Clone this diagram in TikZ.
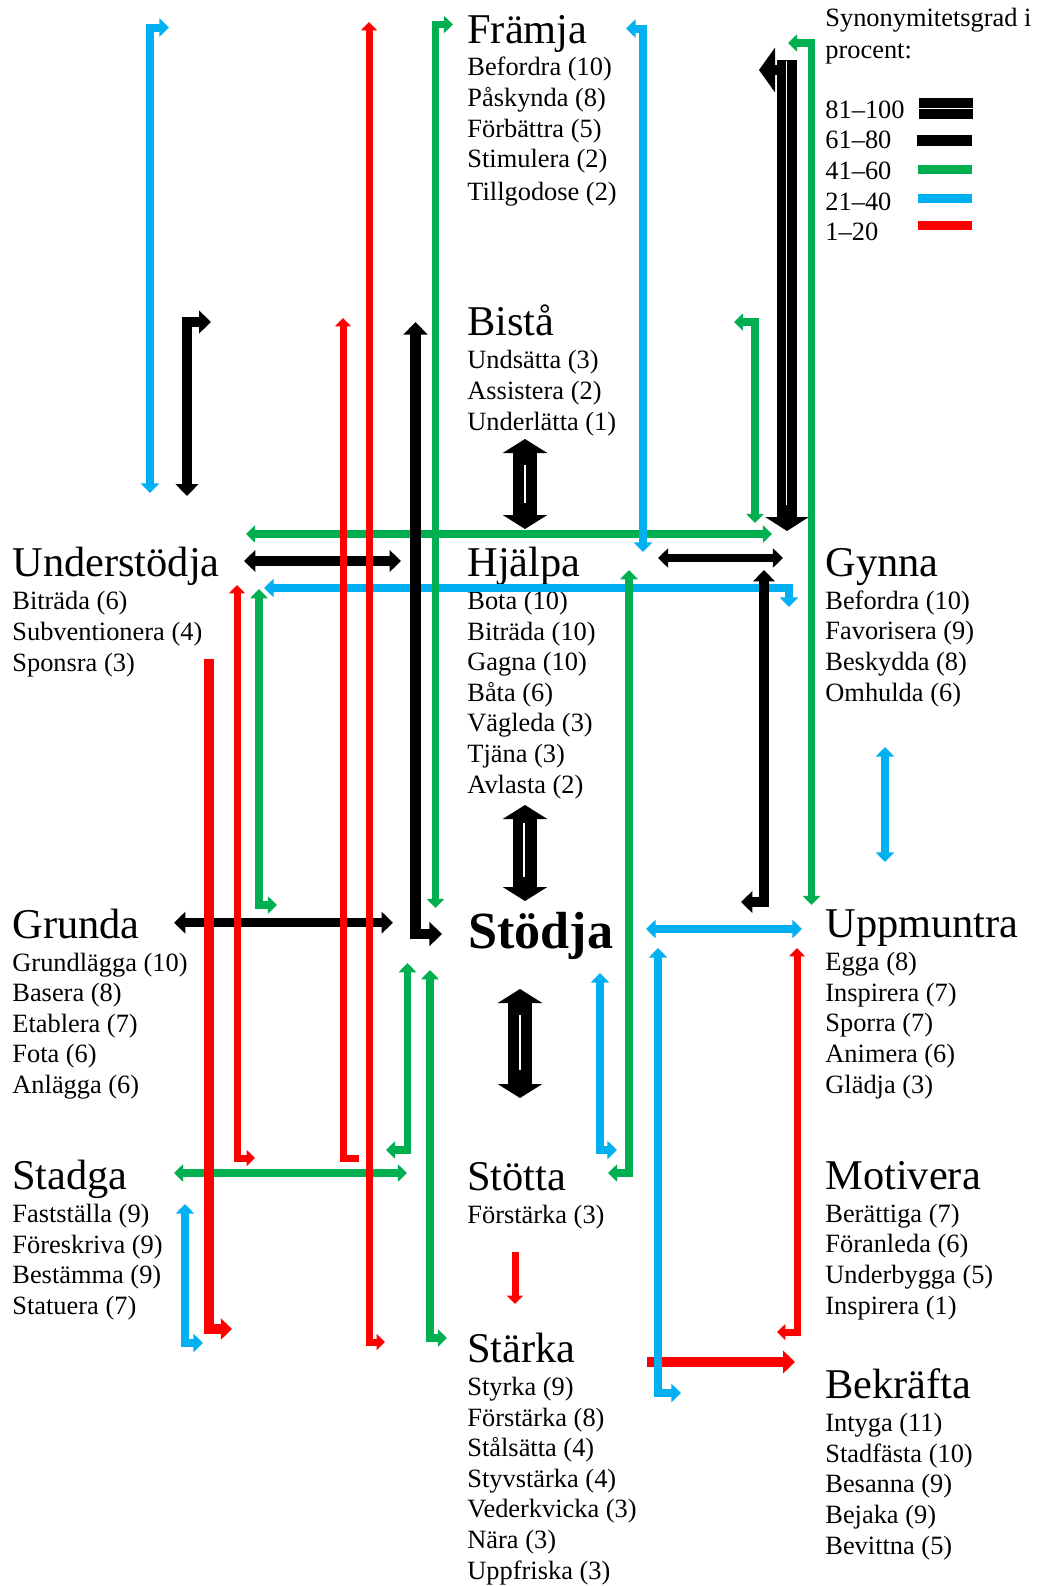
\documentclass[tikz,border=0pt]{standalone}
\usepackage{fontspec}
\setmainfont{Liberation Serif}
\usepackage{tikz}
\usetikzlibrary{arrows.meta}

\definecolor{synblue}{RGB}{0,176,240}
\definecolor{syngreen}{RGB}{0,176,80}
\definecolor{synred}{RGB}{255,0,0}

\newcommand{\itemfont}{\fontsize{13.2pt}{15.3pt}\selectfont}
\newcommand{\headfont}{\fontsize{21.2pt}{24pt}\selectfont}

\begin{document}
\begin{tikzpicture}
	[x=0.5pt,y=-0.5pt,
	>={Triangle[length=0pt 1.2,width=0pt 2.25]},
	grp/.style={anchor=base west,align=left,inner sep=0pt,font=\itemfont},
	syn20/.style={synred,line width=3.5pt},
	syn40/.style={synblue,line width=4pt},
	syn60/.style={syngreen,line width=3.85pt},
	syn80/.style={black,line width=4.75pt},
	syn100/.style={black,line width=12pt,
		arrows={Triangle[width=22pt,length=7pt]-Triangle[width=22pt,length=7pt]}},
	core/.style={white,line width=0.6pt}]
	\path[use as bounding box,fill=white] (0,0) rectangle (1039,1586);

	% ord (baslinjen ligger vid sista raden)
	\node[grp] (framja) at (467,200.7) {{\headfont Främja}\\[1.1pt]
		Befordra (10)\\ Påskynda (8)\\ Förbättra (5)\\ Stimulera (2)\\[1.2pt] Tillgodose (2)};
	\node[grp] (bista) at (467,430) {{\headfont Bistå}\\[1.2pt]
		Undsätta (3)\\ Assistera (2)\\ Underlätta (1)};
	\node[grp] (understodja) at (12,671) {{\headfont Understödja}\\[1.2pt]
		Biträda (6)\\ Subventionera (4)\\ Sponsra (3)};
	\node[grp] (hjalpa) at (467,793) {{\headfont Hjälpa}\\[1.2pt]
		Bota (10)\\ Biträda (10)\\ Gagna (10)\\ Båta (6)\\ Vägleda (3)\\ Tjäna (3)\\ Avlasta (2)};
	\node[grp] (gynna) at (825,701) {{\headfont Gynna}\\[1.2pt]
		Befordra (10)\\ Favorisera (9)\\ Beskydda (8)\\ Omhulda (6)};
	\node[grp] (grunda) at (12,1093.5) {{\headfont Grunda}\\[1.2pt]
		Grundlägga (10)\\ Basera (8)\\ Etablera (7)\\ Fota (6)\\ Anlägga (6)};
	\node[grp,font=\fontsize{26.1pt}{30pt}\selectfont\bfseries] (stodja) at (468,948) {Stödja};
	\node[grp] (uppmuntra) at (825,1093) {{\headfont Uppmuntra}\\[1.2pt]
		Egga (8)\\ Inspirera (7)\\ Sporra (7)\\ Animera (6)\\ Glädja (3)};
	\node[grp] (stadga) at (12,1314.5) {{\headfont Stadga}\\[1.2pt]
		Fastställa (9)\\ Föreskriva (9)\\ Bestämma (9)\\ Statuera (7)};
	\node[grp] (stotta) at (467,1223) {{\headfont Stötta}\\[1.2pt]
		Förstärka (3)};
	\node[grp] (motivera) at (825,1314) {{\headfont Motivera}\\[1.2pt]
		Berättiga (7)\\ Föranleda (6)\\ Underbygga (5)\\ Inspirera (1)};
	\node[grp] (starka) at (467,1579) {{\headfont Stärka}\\[1.2pt]
		Styrka (9)\\ Förstärka (8)\\ Stålsätta (4)\\ Styvstärka (4)\\ Vederkvicka (3)\\ Nära (3)\\ Uppfriska (3)};
	\node[grp] (bekrafta) at (825,1554) {{\headfont Bekräfta}\\[1.2pt]
		Intyga (11)\\ Stadfästa (10)\\ Besanna (9)\\ Bejaka (9)\\ Bevittna (5)};

	% teckenförklaring
	\node[grp] (legtitle) at (825,58.3) {Synonymitetsgrad i\\[0.5pt] procent:};
	\node[grp] (legrows) at (825,240.7) {81–100\\ 61–80\\ 41–60\\ 21–40\\ 1–20};
	\draw[black,line width=4.85pt,double=white,double distance=0.5pt] (919,108.6) -- (973,108.6);
	\draw[syn80,line width=5.3pt] (917,140.3) -- (972,140.3);
	\draw[syn60,line width=4.65pt] (918,169.7) -- (972,169.7);
	\draw[syn40,line width=4.65pt] (918,198.7) -- (972,198.7);
	\draw[syn20,line width=4.65pt] (918,225.3) -- (972,225.3);

	% vågräta pilar
	\draw[syn60,<->] (246,534) -- (772,534);
	\draw[syn80,<->] (244,561) -- (401,561);
	\draw[syn80,line width=4.2pt,<->] (658,558) -- (783,558);
	\draw[syn40,<->] (264,588) -- (789,588) -- (789,607);
	\draw[syn80,<->] (174,922.7) -- (393,922.7);
	\draw[syn60,<->] (174,1173) -- (407,1173);
	\draw[syn40,<->] (646,929) -- (802,929);
	\draw[syn20,line width=5pt,->] (647,1362) -- (795,1362);

	% lodräta pilar
	\draw[syn40,<->] (150,493) -- (150,27.5) -- (169,27.5);
	\draw[syn80,line width=5pt,<->] (187,496) -- (187,322) -- (211,322);
	\draw[syn20,<->] (369,22) -- (369,1342) -- (385,1342);
	\draw[syn20,<-] (343,318) -- (343,1158) -- (359,1158);
	\draw[syn80,line width=5.3pt,<->] (415.5,322) -- (415.5,934) -- (442,934);
	\draw[syn60,<->] (453,24.5) -- (435.5,24.5) -- (435.5,908);
	\draw[syn40,<->] (626,28.5) -- (643,28.5) -- (643,552);
	\draw[syn60,<->] (788,43) -- (811.5,43) -- (811.5,905);
	\draw[syn60,<->] (734,322) -- (755,322) -- (755,523);
	\draw[syn20,<->] (237,585) -- (237,1158) -- (255,1158);
	\draw[syn60,<->] (259,589) -- (259,905) -- (277,905);
	\draw[syn20,line width=4.65pt,->] (209,659) -- (209,1329) -- (232,1329);
	\draw[syn60,<->] (407.5,963) -- (407.5,1150) -- (386,1150);
	\draw[syn60,<->] (430,970) -- (430,1338) -- (447,1338);
	\draw[syn40,<->] (185,1204) -- (185,1343) -- (203,1343);
	\draw[syn60,<->] (629,570) -- (629,1173) -- (608,1173);
	\draw[syn80,<->] (764,570) -- (764,902) -- (741,902);
	\draw[syn40,<->] (885,747) -- (885,862);
	\draw[syn40,<->] (600,973) -- (600,1150) -- (617,1150);
	\draw[syn40,<->] (658,948) -- (658,1393) -- (681,1393);
	\draw[syn20,<->] (797,948) -- (797,1332) -- (777,1332);
	\draw[syn20,->] (515,1252) -- (515,1304);

	% 81-100
	\draw[black,line width=10pt,-{Triangle[width=21.5pt,length=7pt]}] (787,60) -- (787,531);
	\draw[black,line width=5pt,-{Triangle[width=22pt,length=8pt]}] (782,70) -- (759,70);
	\draw[core] (786.5,61) -- (786.5,505);
	\draw[syn100] (525,439) -- (525,529);
	\draw[core] (525,465) -- (525,503);
	\draw[syn100] (525,805) -- (525,901);
	\draw[core] (524,823) -- (524,877);
	\draw[syn100] (520,989) -- (520,1098);
	\draw[core] (520,1015) -- (520,1070);
\end{tikzpicture}
\end{document}
